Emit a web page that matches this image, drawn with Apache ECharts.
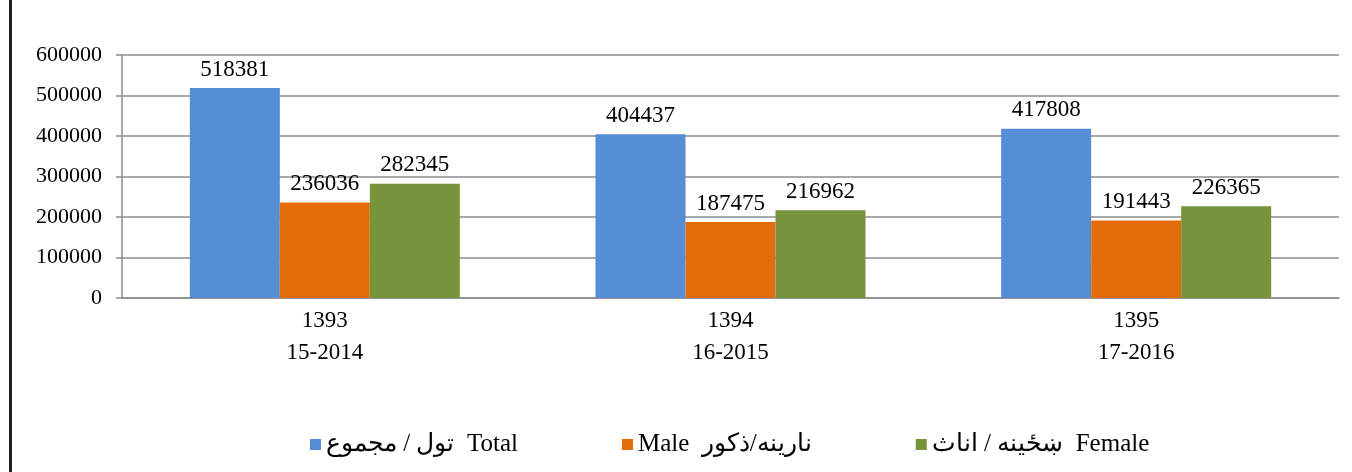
<!DOCTYPE html>
<html>
<head>
<meta charset="utf-8">
<script src="https://cdn.jsdelivr.net/npm/echarts@6/dist/echarts.min.js"></script>
<style>
  html, body { margin: 0; padding: 0; background: #fff; }
  #chart { width: 1352px; height: 472px; }
</style>
</head>
<body>
<div id="chart"></div>
<script>
// chart data
const years = ['1393\n15-2014', '1394\n16-2015', '1395\n17-2016'];
const seriesNames = ['تول / مجموع  Total', 'Male  نارینه/ذکور', 'ښځینه / اناث  Female'];
const total = [518381, 404437, 417808];
const male = [236036, 187475, 191443];
const female = [282345, 216962, 226365];
const colors = ['#558ed5', '#e46c0a', '#77933c'];

const font = '"Liberation Serif", "Times New Roman", serif';

const chart = echarts.init(document.getElementById('chart'));

const makeSeries = (name, values, i) => ({
  name: name,
  type: 'bar',
  data: values,
  barWidth: 90,
  barGap: 0,
  itemStyle: { color: colors[i] },
  label: {
    show: true,
    position: 'top',
    distance: 7,
    color: '#000',
    fontFamily: font,
    fontSize: 23
  }
});

chart.setOption({
  animation: false,
  textStyle: { fontFamily: font },
  grid: { left: 122, right: 13, top: 55, bottom: 174 },
  legend: {
    left: 305,
    top: 427,
    itemWidth: 11,
    itemHeight: 11,
    itemGap: 104,
    icon: 'rect',
    textStyle: { fontFamily: font, fontSize: 25, color: '#000' },
    data: seriesNames
  },
  xAxis: {
    type: 'category',
    data: years,
    axisLine: { lineStyle: { color: '#8c8c8c', width: 1.5 } },
    axisTick: { show: false },
    axisLabel: {
      color: '#000',
      fontFamily: font,
      fontSize: 23,
      lineHeight: 32,
      margin: 7
    }
  },
  yAxis: {
    type: 'value',
    min: 0,
    max: 600000,
    interval: 100000,
    axisLine: { show: true, lineStyle: { color: '#8c8c8c', width: 1.5 } },
    axisTick: { show: true, length: 6, lineStyle: { color: '#8c8c8c', width: 1.5 } },
    splitLine: { lineStyle: { color: '#8c8c8c', width: 1.5 } },
    axisLabel: {
      color: '#000',
      fontFamily: font,
      fontSize: 22,
      margin: 20,
      formatter: (v) => String(v)
    }
  },
  graphic: [
    {
      type: 'rect',
      left: 9,
      top: 0,
      shape: { width: 3, height: 472 },
      style: { fill: '#222' }
    }
  ],
  series: [
    makeSeries(seriesNames[0], total, 0),
    makeSeries(seriesNames[1], male, 1),
    makeSeries(seriesNames[2], female, 2)
  ]
});
</script>
</body>
</html>
